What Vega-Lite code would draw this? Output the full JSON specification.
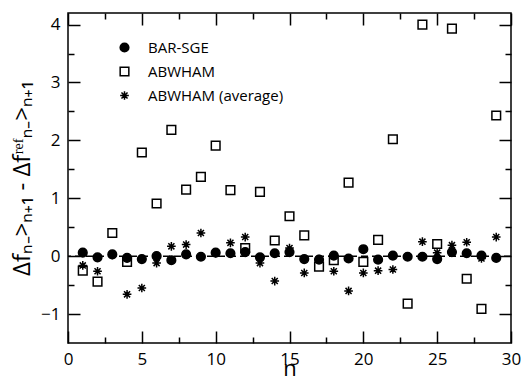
{
  "$schema": "https://vega.github.io/schema/vega-lite/v6.json",
  "width": 443,
  "height": 330,
  "autosize": {"type": "none"},
  "padding": {"left": 68, "top": 13, "right": 18, "bottom": 36},
  "background": "white",
  "config": {
    "view": {"stroke": "black", "strokeWidth": 1.5},
    "axis": {"grid": false, "labelFont": "Open Sans", "labelFontSize": 17, "labelColor": "black", "titleColor": "black", "tickColor": "black", "tickWidth": 1.5, "tickOpacity": 1, "titleFont": "Open Sans", "titleFontWeight": "normal"},
    "axisX": {"tickColor": "black", "tickWidth": 1.5, "tickOpacity": 1},
    "axisY": {"tickColor": "black", "tickWidth": 1.5, "tickOpacity": 1},
    "legend": {"orient": "none", "legendX": 49, "legendY": 27, "labelFont": "Open Sans", "labelFontSize": 15, "labelColor": "black", "symbolSize": 75, "symbolStrokeWidth": 1.5, "rowPadding": 8, "labelOffset": 16}
  },
  "data": {"values": [
    {"n": 1, "series": "BAR-SGE", "v": 0.06},
    {"n": 2, "series": "BAR-SGE", "v": -0.02},
    {"n": 3, "series": "BAR-SGE", "v": 0.03},
    {"n": 4, "series": "BAR-SGE", "v": -0.03},
    {"n": 5, "series": "BAR-SGE", "v": -0.05},
    {"n": 6, "series": "BAR-SGE", "v": 0.0},
    {"n": 7, "series": "BAR-SGE", "v": -0.07},
    {"n": 8, "series": "BAR-SGE", "v": 0.03},
    {"n": 9, "series": "BAR-SGE", "v": -0.01},
    {"n": 10, "series": "BAR-SGE", "v": 0.06},
    {"n": 11, "series": "BAR-SGE", "v": 0.05},
    {"n": 12, "series": "BAR-SGE", "v": 0.07},
    {"n": 13, "series": "BAR-SGE", "v": -0.02},
    {"n": 14, "series": "BAR-SGE", "v": 0.05},
    {"n": 15, "series": "BAR-SGE", "v": 0.07},
    {"n": 16, "series": "BAR-SGE", "v": -0.05},
    {"n": 17, "series": "BAR-SGE", "v": -0.06},
    {"n": 18, "series": "BAR-SGE", "v": 0.01},
    {"n": 19, "series": "BAR-SGE", "v": -0.04},
    {"n": 20, "series": "BAR-SGE", "v": 0.12},
    {"n": 21, "series": "BAR-SGE", "v": -0.06},
    {"n": 22, "series": "BAR-SGE", "v": 0.01},
    {"n": 23, "series": "BAR-SGE", "v": -0.01},
    {"n": 24, "series": "BAR-SGE", "v": -0.01},
    {"n": 25, "series": "BAR-SGE", "v": -0.05},
    {"n": 26, "series": "BAR-SGE", "v": 0.07},
    {"n": 27, "series": "BAR-SGE", "v": 0.05},
    {"n": 28, "series": "BAR-SGE", "v": 0.01},
    {"n": 29, "series": "BAR-SGE", "v": -0.03},
    {"n": 1, "series": "ABWHAM", "v": -0.25},
    {"n": 2, "series": "ABWHAM", "v": -0.44},
    {"n": 3, "series": "ABWHAM", "v": 0.40},
    {"n": 4, "series": "ABWHAM", "v": -0.10},
    {"n": 5, "series": "ABWHAM", "v": 1.79},
    {"n": 6, "series": "ABWHAM", "v": 0.91},
    {"n": 7, "series": "ABWHAM", "v": 2.18},
    {"n": 8, "series": "ABWHAM", "v": 1.15},
    {"n": 9, "series": "ABWHAM", "v": 1.37},
    {"n": 10, "series": "ABWHAM", "v": 1.91},
    {"n": 11, "series": "ABWHAM", "v": 1.14},
    {"n": 12, "series": "ABWHAM", "v": 0.14},
    {"n": 13, "series": "ABWHAM", "v": 1.11},
    {"n": 14, "series": "ABWHAM", "v": 0.27},
    {"n": 15, "series": "ABWHAM", "v": 0.69},
    {"n": 16, "series": "ABWHAM", "v": 0.36},
    {"n": 17, "series": "ABWHAM", "v": -0.18},
    {"n": 18, "series": "ABWHAM", "v": -0.07},
    {"n": 19, "series": "ABWHAM", "v": 1.27},
    {"n": 20, "series": "ABWHAM", "v": -0.10},
    {"n": 21, "series": "ABWHAM", "v": 0.28},
    {"n": 22, "series": "ABWHAM", "v": 2.02},
    {"n": 23, "series": "ABWHAM", "v": -0.82},
    {"n": 24, "series": "ABWHAM", "v": 4.00},
    {"n": 25, "series": "ABWHAM", "v": 0.21},
    {"n": 26, "series": "ABWHAM", "v": 3.93},
    {"n": 27, "series": "ABWHAM", "v": -0.39},
    {"n": 28, "series": "ABWHAM", "v": -0.91},
    {"n": 29, "series": "ABWHAM", "v": 2.43},
    {"n": 1, "series": "ABWHAM (average)", "v": -0.16},
    {"n": 2, "series": "ABWHAM (average)", "v": -0.26},
    {"n": 3, "series": "ABWHAM (average)", "v": 0.02},
    {"n": 4, "series": "ABWHAM (average)", "v": -0.66},
    {"n": 5, "series": "ABWHAM (average)", "v": -0.55},
    {"n": 6, "series": "ABWHAM (average)", "v": -0.12},
    {"n": 7, "series": "ABWHAM (average)", "v": 0.17},
    {"n": 8, "series": "ABWHAM (average)", "v": 0.20},
    {"n": 9, "series": "ABWHAM (average)", "v": 0.40},
    {"n": 10, "series": "ABWHAM (average)", "v": 0.05},
    {"n": 11, "series": "ABWHAM (average)", "v": 0.23},
    {"n": 12, "series": "ABWHAM (average)", "v": 0.33},
    {"n": 13, "series": "ABWHAM (average)", "v": -0.12},
    {"n": 14, "series": "ABWHAM (average)", "v": -0.43},
    {"n": 15, "series": "ABWHAM (average)", "v": 0.14},
    {"n": 16, "series": "ABWHAM (average)", "v": -0.29},
    {"n": 17, "series": "ABWHAM (average)", "v": -0.05},
    {"n": 18, "series": "ABWHAM (average)", "v": -0.26},
    {"n": 19, "series": "ABWHAM (average)", "v": -0.60},
    {"n": 20, "series": "ABWHAM (average)", "v": -0.29},
    {"n": 21, "series": "ABWHAM (average)", "v": -0.25},
    {"n": 22, "series": "ABWHAM (average)", "v": -0.23},
    {"n": 23, "series": "ABWHAM (average)", "v": -0.01},
    {"n": 24, "series": "ABWHAM (average)", "v": 0.25},
    {"n": 25, "series": "ABWHAM (average)", "v": 0.06},
    {"n": 26, "series": "ABWHAM (average)", "v": 0.19},
    {"n": 27, "series": "ABWHAM (average)", "v": 0.24},
    {"n": 28, "series": "ABWHAM (average)", "v": -0.04},
    {"n": 29, "series": "ABWHAM (average)", "v": 0.33}
  ]},
  "layer": [
    {
      "data": {"values": [{}]},
      "mark": {"type": "rule", "strokeDash": [7, 4], "strokeWidth": 1.5, "color": "black"},
      "encoding": {
        "y": {"datum": 0, "type": "quantitative", "scale": {"domain": [-1.5, 4.2], "nice": false}, "axis": null}
      }
    },
    {
      "transform": [{"filter": "datum.series === 'BAR-SGE'"}],
      "mark": {"type": "point", "strokeWidth": 1.5, "size": 75, "opacity": 1},
      "encoding": {
        "x": {"field": "n", "type": "quantitative", "scale": {"domain": [0, 30], "nice": false}, "axis": {"orient": "bottom", "values": [0, 5, 10, 15, 20, 25, 30], "domain": false, "ticks": true, "tickColor": "black", "tickWidth": 1.5, "tickOpacity": 1, "tickSize": 12, "offset": -12, "labelPadding": 8, "labelFlush": false, "title": "n", "titleFontSize": 22, "titlePadding": -9}},
        "y": {"field": "v", "type": "quantitative", "scale": {"domain": [-1.5, 4.2], "nice": false}, "axis": {"orient": "left", "values": [-1, 0, 1, 2, 3, 4], "domain": false, "ticks": true, "tickColor": "black", "tickWidth": 1.5, "tickOpacity": 1, "tickSize": 12, "offset": -12, "labelPadding": 8, "labelFlush": false, "title": "Δfₙ₋>ₙ₊₁ - Δfʳᵉᶠₙ₋>ₙ₊₁", "titleFontSize": 24, "titlePadding": 6}},
        "shape": {"field": "series", "type": "nominal", "scale": {"domain": ["BAR-SGE", "ABWHAM", "ABWHAM (average)"], "range": ["circle", "square", "M-1,0L1,0M0,-1L0,1M-0.7,-0.7L0.7,0.7M-0.7,0.7L0.7,-0.7"]}, "legend": {"title": null}},
        "fill": {"field": "series", "type": "nominal", "scale": {"domain": ["BAR-SGE", "ABWHAM", "ABWHAM (average)"], "range": ["black", "transparent", "transparent"]}, "legend": {"title": null}},
        "stroke": {"field": "series", "type": "nominal", "scale": {"domain": ["BAR-SGE", "ABWHAM", "ABWHAM (average)"], "range": ["black", "black", "black"]}, "legend": {"title": null}}
      }
    },
    {
      "transform": [{"filter": "datum.series === 'ABWHAM'"}],
      "mark": {"type": "point", "strokeWidth": 1.5, "size": 75, "opacity": 1},
      "encoding": {
        "x": {"field": "n", "type": "quantitative", "axis": {"orient": "bottom", "values": [2.5, 7.5, 12.5, 17.5, 22.5, 27.5], "domain": false, "labels": false, "ticks": true, "tickColor": "black", "tickWidth": 1.5, "tickOpacity": 1, "tickSize": 6, "offset": -6, "title": null}},
        "y": {"field": "v", "type": "quantitative", "axis": {"orient": "left", "values": [-0.5, 0.5, 1.5, 2.5, 3.5], "domain": false, "labels": false, "ticks": true, "tickColor": "black", "tickWidth": 1.5, "tickOpacity": 1, "tickSize": 6, "offset": -6, "title": null}},
        "shape": {"field": "series", "type": "nominal", "legend": {"title": null}},
        "fill": {"field": "series", "type": "nominal", "legend": {"title": null}},
        "stroke": {"field": "series", "type": "nominal", "legend": {"title": null}}
      }
    },
    {
      "transform": [{"filter": "datum.series === 'ABWHAM (average)'"}],
      "mark": {"type": "point", "strokeWidth": 1.5, "size": 75, "opacity": 1},
      "encoding": {
        "x": {"field": "n", "type": "quantitative", "axis": {"orient": "top", "values": [0, 5, 10, 15, 20, 25, 30], "domain": false, "labels": false, "ticks": true, "tickColor": "black", "tickWidth": 1.5, "tickOpacity": 1, "tickSize": 12, "offset": -12, "title": null}},
        "y": {"field": "v", "type": "quantitative", "axis": {"orient": "right", "values": [-1, 0, 1, 2, 3, 4], "domain": false, "labels": false, "ticks": true, "tickColor": "black", "tickWidth": 1.5, "tickOpacity": 1, "tickSize": 12, "offset": -12, "title": null}},
        "shape": {"field": "series", "type": "nominal", "legend": {"title": null}},
        "fill": {"field": "series", "type": "nominal", "legend": {"title": null}},
        "stroke": {"field": "series", "type": "nominal", "legend": {"title": null}}
      }
    },
    {
      "mark": {"type": "point", "opacity": 0},
      "encoding": {
        "x": {"field": "n", "type": "quantitative", "axis": {"orient": "top", "values": [2.5, 7.5, 12.5, 17.5, 22.5, 27.5], "domain": false, "labels": false, "ticks": true, "tickColor": "black", "tickWidth": 1.5, "tickOpacity": 1, "tickSize": 6, "offset": -6, "title": null}},
        "y": {"field": "v", "type": "quantitative", "axis": {"orient": "right", "values": [-0.5, 0.5, 1.5, 2.5, 3.5], "domain": false, "labels": false, "ticks": true, "tickColor": "black", "tickWidth": 1.5, "tickOpacity": 1, "tickSize": 6, "offset": -6, "title": null}}
      }
    }
  ],
  "resolve": {"axis": {"x": "independent", "y": "independent"}}
}
